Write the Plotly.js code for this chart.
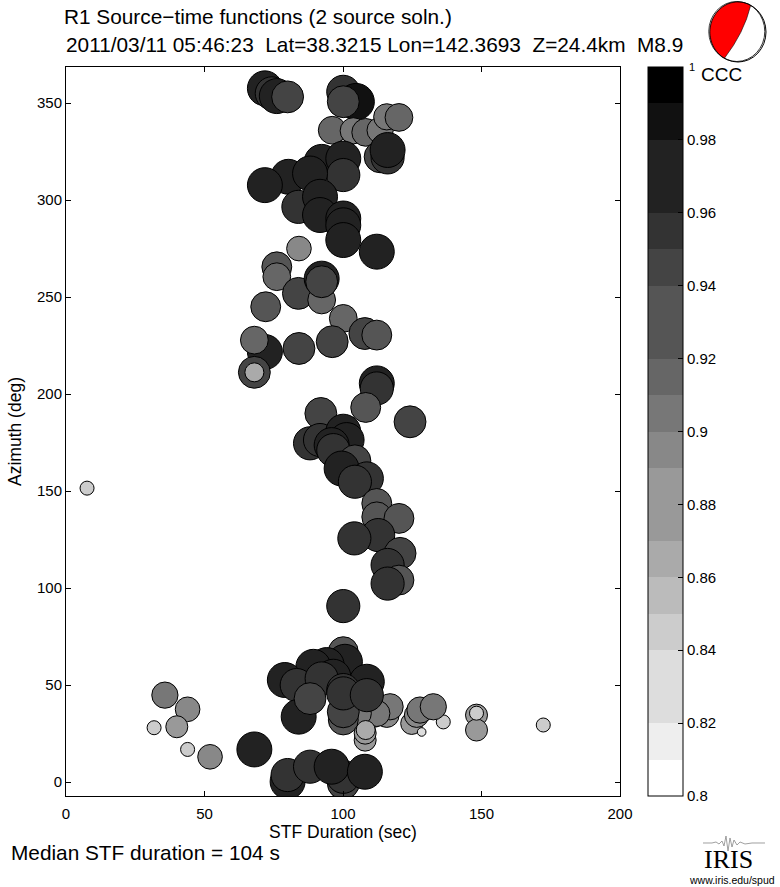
<!DOCTYPE html>
<html>
<head>
<meta charset="utf-8">
<script src="https://cdn.plot.ly/plotly-3.0.1.min.js"></script>
<style>html,body{margin:0;padding:0;background:#fff;}#chart{width:780px;height:887px;}</style>
</head>
<body>
<div id="chart"></div>
<script>
// ---------------- DATA ----------------
const duration = [
 71.8, 74.3, 76.1, 80.0, 100.1, 104.7, 100.1, 96.1, 103.7, 108.2,
 113.4, 115.8, 120.2, 113.4, 116.1, 116.1, 92.3, 100.1, 100.1, 80.3,
 88.1, 71.8, 83.9, 91.7, 91.7, 100.1, 100.1, 100.1, 112.2, 84.1,
 76.1, 76.1, 83.9, 92.3, 92.3, 92.3, 72.1, 100.1, 107.9, 112.2,
 96.1, 84.1, 71.8, 68.0, 68.0, 68.0, 112.2, 112.2, 108.2, 124.2,
 92.0, 88.1, 91.7, 100.1, 101.3, 95.9, 96.5, 104.3, 99.5, 108.6,
 104.3, 112.2, 112.2, 120.2, 112.7, 104.1, 120.6, 116.1, 120.2, 116.1,
 100.1, 7.6,
 35.7, 43.9, 40.0, 31.8, 43.9, 52.0, 68.0, 80.0, 80.0, 88.1,
 100.1, 100.1, 95.9, 107.9,
 148.2, 148.2, 148.2, 172.3, 136.2, 124.8, 126.6, 127.8, 132.6, 128.4,
 115.8, 117.0, 111.0, 112.2, 105.5,
 100.1, 100.7, 94.1, 89.3, 96.5, 79.0, 83.3, 92.3, 108.6, 84.0,
 88.1, 100.1, 100.1, 100.1, 100.1, 108.6,
 108.0, 108.0, 108.2
];
const azimuth = [
 357.6, 355.0, 353.6, 353.2, 355.8, 350.7, 350.7, 336.0, 335.7, 334.9,
 336.0, 342.9, 342.6, 322.3, 322.0, 325.8, 319.7, 321.4, 312.9, 312.0,
 313.7, 307.7, 296.5, 301.7, 292.3, 290.5, 287.0, 279.4, 273.4, 275.0,
 265.6, 260.5, 251.9, 248.5, 259.5, 257.9, 245.0, 239.0, 231.2, 230.4,
 227.0, 223.5, 221.7, 227.8, 211.2, 211.2, 205.5, 202.9, 193.1, 185.7,
 190.0, 174.6, 176.3, 180.6, 176.3, 173.7, 171.1, 165.6, 161.6, 156.5,
 154.8, 143.6, 136.7, 135.9, 127.3, 125.6, 117.9, 111.9, 104.1, 102.3,
 90.7, 151.5,
 44.8, 37.5, 28.5, 28.0, 16.8, 13.0, 16.8, 0.2, 3.6, 7.9,
 -0.7, 2.7, 7.9, 5.3,
 34.5, 26.8, 35.5, 29.4, 31.0, 30.2, 34.5, 37.1, 38.8, 25.8,
 34.5, 38.8, 34.5, 35.4, 35.4,
 67.2, 62.0, 60.3, 59.4, 54.3, 52.6, 50.0, 53.4, 51.7, 33.7,
 43.0, 32.0, 36.2, 47.4, 45.7, 44.8,
 21.6, 25.2, 26.8
];
const ccc = [
 0.970, 0.955, 0.970, 0.945, 0.955, 0.985, 0.945, 0.915, 0.905, 0.915,
 0.905, 0.905, 0.915, 0.945, 0.955, 0.970, 0.970, 0.970, 0.955, 0.970,
 0.970, 0.970, 0.955, 0.970, 0.970, 0.970, 0.970, 0.970, 0.970, 0.895,
 0.930, 0.915, 0.945, 0.915, 0.970, 0.945, 0.930, 0.915, 0.945, 0.930,
 0.945, 0.945, 0.970, 0.915, 0.945, 0.865, 0.970, 0.955, 0.930, 0.945,
 0.945, 0.955, 0.955, 0.970, 0.970, 0.970, 0.955, 0.945, 0.970, 0.955,
 0.955, 0.930, 0.930, 0.930, 0.955, 0.955, 0.945, 0.955, 0.930, 0.955,
 0.955, 0.845,
 0.905, 0.895, 0.880, 0.845, 0.845, 0.895, 0.970, 0.970, 0.955, 0.955,
 0.945, 0.955, 0.970, 0.970,
 0.880, 0.880, 0.845, 0.845, 0.845, 0.880, 0.895, 0.905, 0.905, 0.830,
 0.895, 0.905, 0.895, 0.905, 0.905,
 0.930, 0.970, 0.970, 0.970, 0.970, 0.970, 0.955, 0.955, 0.970, 0.970,
 0.945, 0.930, 0.945, 0.955, 0.955, 0.955,
 0.880, 0.880, 0.865
];
const xTickVals = [0, 50, 100, 150, 200];
const yTickVals = [0, 50, 100, 150, 200, 250, 300, 350];
const cbTickVals = [0.8, 0.82, 0.84, 0.86, 0.88, 0.9, 0.92, 0.94, 0.96, 0.98];
const cbTickText = ['0.8', '0.82', '0.84', '0.86', '0.88', '0.9', '0.92', '0.94', '0.96', '0.98'];
const bandColors = ['#ffffff','#eeeeee','#dddddd','#dddddd','#cccccc','#bbbbbb','#aaaaaa','#999999','#999999','#888888',
                    '#777777','#666666','#555555','#555555','#444444','#333333','#222222','#222222','#111111','#000000'];

// ---------------- STYLE / GEOMETRY ----------------
const FONT = 'Liberation Sans, Arial, Helvetica, sans-serif';
const W = 780, H = 887, ML = 66, MR = 160, MT = 67, MB = 91;
const PW = W - ML - MR, PH = H - MT - MB;
const px2x = p => (p - ML) / PW;
const py2y = p => (H - MB - p) / PH;

const colorscale = [];
bandColors.forEach((c, i) => { colorscale.push([i / bandColors.length, c]); colorscale.push([(i + 1) / bandColors.length, c]); });

const sizes = ccc.map(c => Math.sqrt(Math.max(8200 * (c - 0.821), 36)));

const trace = {
  type: 'scatter', mode: 'markers', x: duration, y: azimuth, hoverinfo: 'none',
  marker: {
    size: sizes, sizemode: 'diameter', color: ccc, cmin: 0.8, cmax: 1.0, colorscale: colorscale,
    opacity: 1, line: {color: '#000', width: 1},
    colorbar: {
      x: px2x(648), xanchor: 'left', xref: 'paper', y: 0.5, yanchor: 'middle', yref: 'paper',
      len: 1, lenmode: 'fraction', thickness: 35, thicknessmode: 'pixels', xpad: 0, ypad: 0,
      outlinewidth: 1, outlinecolor: '#000', borderwidth: 0,
      tickmode: 'array', tickvals: cbTickVals, ticktext: cbTickText,
      ticks: 'inside', ticklen: 5, tickcolor: '#000', tickfont: {family: FONT, size: 15, color: '#000'}
    }
  }
};

// beachball
const bx = 738, by = 32, brx = 28, bry = 30;
function ell(a) { const r = a * Math.PI / 180; return [bx + brx * Math.cos(r), by + bry * Math.sin(r)]; }
let red = '';
for (let a = -63; a >= -241; a -= 4) {
  const p = ell(a);
  red += (red ? ' L ' : 'M ') + px2x(p[0]).toFixed(5) + ',' + py2y(p[1]).toFixed(5);
}
const pe = ell(-241), ps = ell(-63);
red += ' L ' + px2x(pe[0]).toFixed(5) + ',' + py2y(pe[1]).toFixed(5);
red += ' Q ' + px2x(744).toFixed(5) + ',' + py2y(33).toFixed(5) + ' ' + px2x(ps[0]).toFixed(5) + ',' + py2y(ps[1]).toFixed(5) + ' Z';

const squig = [[703,843],[712,843],[716,842],[719,844],[722,841],[724,846],[726,836],[728,851],[730,838],[732,847],[734,840],[737,845],[740,842],[745,844],[752,843],[765,843]];
const squigPath = squig.map((p, i) => (i ? 'L ' : 'M ') + px2x(p[0]).toFixed(5) + ',' + py2y(p[1]).toFixed(5)).join(' ');

const shapes = [
  {type: 'circle', xref: 'paper', yref: 'paper', x0: px2x(bx - brx), x1: px2x(bx + brx), y0: py2y(by + bry), y1: py2y(by - bry),
   fillcolor: '#ffffff', line: {color: '#000', width: 1}},
  {type: 'path', xref: 'paper', yref: 'paper', path: red, fillcolor: '#ff0000', line: {color: '#000', width: 0.6}},
  {type: 'circle', xref: 'paper', yref: 'paper', x0: px2x(bx - brx - 1.2), x1: px2x(bx + brx - 1.2), y0: py2y(by + bry - 0.5), y1: py2y(by - bry - 0.5),
   fillcolor: 'rgba(0,0,0,0)', line: {color: '#000', width: 0.8}},
  {type: 'path', xref: 'paper', yref: 'paper', path: squigPath, line: {color: '#888', width: 0.8}}
];

const ann = (text, x, y, size, xanchor, extra) => Object.assign({
  text: text, xref: 'paper', yref: 'paper', x: px2x(x), y: py2y(y), xanchor: xanchor, yanchor: 'middle',
  showarrow: false, font: {family: FONT, size: size, color: '#000'}
}, extra || {});

const annotations = [
  ann('2011/03/11\u00a005:46:23\u00a0\u00a0Lat=38.3215\u00a0Lon=142.3693\u00a0\u00a0Z=24.4km\u00a0\u00a0M8.9', 64, 44, 20.8, 'left'),
  ann('Median STF duration = 104 s', 9, 852, 20.8, 'left'),
  ann('1', 692, 67, 11, 'center'),
  ann('CCC', 699, 75, 19, 'left'),
  ann('IRIS', 728, 859, 26, 'center', {font: {family: 'Liberation Serif, Times New Roman, serif', size: 26, color: '#000'}}),
  ann('www.iris.edu/spud', 732, 880, 10.5, 'center')
];

const layout = {
  width: W, height: H,
  margin: {l: ML, r: MR, t: MT, b: MB, autoexpand: false},
  paper_bgcolor: '#fff', plot_bgcolor: '#fff', showlegend: false,
  font: {family: FONT, size: 15, color: '#000'},
  title: {text: 'R1 Source\u2212time functions (2 source soln.)', x: 64 / W, xanchor: 'left', xref: 'container',
          y: 1 - 17 / H, yanchor: 'middle', yref: 'container', font: {family: FONT, size: 20.8, color: '#000'}},
  xaxis: {range: [0, 200], tickmode: 'array', tickvals: xTickVals, ticks: 'inside', ticklen: 5, tickcolor: '#000',
          mirror: 'ticks', showline: true, linecolor: '#000', linewidth: 1, showgrid: false, zeroline: false,
          ticklabelstandoff: 4,
          tickfont: {family: FONT, size: 15, color: '#000'},
          title: {text: 'STF Duration (sec)', font: {family: FONT, size: 17.5, color: '#000'}, standoff: 3}},
  yaxis: {range: [-7.2, 368.6], tickmode: 'array', tickvals: yTickVals, ticks: 'inside', ticklen: 5, tickcolor: '#000',
          mirror: 'ticks', showline: true, linecolor: '#000', linewidth: 1, showgrid: false, zeroline: false,
          tickfont: {family: FONT, size: 15, color: '#000'},
          title: {text: 'Azimuth (deg)', font: {family: FONT, size: 17.5, color: '#000'}, standoff: 10}},
  shapes: shapes,
  annotations: annotations
};

Plotly.newPlot('chart', [trace], layout, {staticPlot: true, displayModeBar: false});
</script>
</body>
</html>
